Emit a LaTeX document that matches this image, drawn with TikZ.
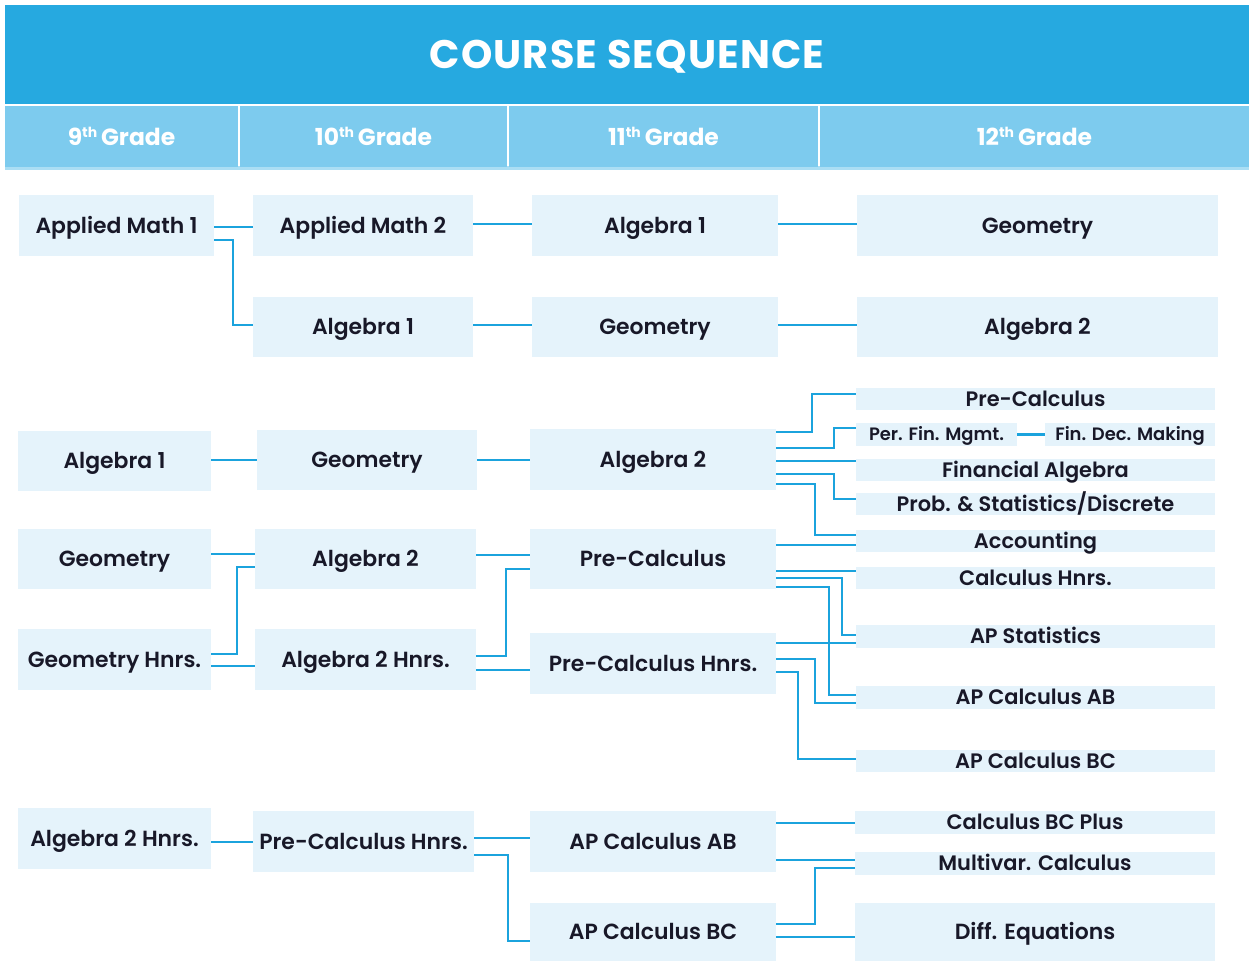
\documentclass[tikz,border=0pt]{standalone}
\usepackage{fontspec}
\setmainfont{Poppins}[UprightFont={* SemiBold},BoldFont={* Bold}]
\definecolor{titleblue}{RGB}{38,169,224}
\definecolor{headblue}{RGB}{125,203,238}
\definecolor{headline}{RGB}{170,222,244}
\definecolor{boxfill}{RGB}{229,243,251}
\definecolor{linec}{RGB}{27,163,221}
\definecolor{txt}{RGB}{24,24,40}
\newcommand\cbox[7][]{%
  \pgfmathsetmacro\bw{#5-#3}\pgfmathsetmacro\bh{#6-#4}%
  \pgfmathsetmacro\cx{(#3+#5)/2}\pgfmathsetmacro\cy{(#4+#6)/2}%
  \node[#1,minimum width=\bw bp,minimum height=\bh bp] (#2) at (\cx,\cy) {#7};}
\newcommand\gr[1]{#1\raisebox{0.62ex}{\fontsize{14}{14}\selectfont th}\,Grade}
\tikzset{
  box/.style={fill=boxfill, inner sep=0pt, text=txt, font=\fontsize{22}{23}\selectfont, text height=15.3bp, text depth=0bp},
  sbox/.style={box, font=\fontsize{21}{22}\selectfont, text height=14.6bp},
  tbox/.style={box, font=\fontsize{18}{19}\selectfont, text height=12.5bp},
  conn/.style={draw=linec, line width=2.3bp},
  hdr/.style={fill=headblue, inner sep=0pt, text=white, font=\bfseries\fontsize{23.5}{25}\selectfont},
  ttl/.style={fill=titleblue, inner sep=0pt, text=white, text height=27.5bp, text depth=0bp, font=\bfseries\fontsize{40}{42}\selectfont\addfontfeatures{LetterSpace=3}}
}
\begin{document}
\begin{tikzpicture}[x=1bp,y=-1bp]
\useasboundingbox[fill=white] (0,0) rectangle (1249,962);
% header
\cbox[ttl]{title}{5}{5}{1249}{104}{COURSE SEQUENCE}
\fill[headline] (5,166) rectangle (1249,170);
\cbox[hdr]{h9}{5}{106}{238}{167}{\gr{9}}
\cbox[hdr]{h10}{240}{106}{507}{167}{\gr{10}}
\cbox[hdr]{h11}{509}{106}{818}{167}{\gr{11}}
\cbox[hdr]{h12}{820}{106}{1249}{167}{\gr{12}}
% section 1
\cbox[box]{am1}{19}{195}{214}{256}{Applied Math 1}
\cbox[box]{am2}{253}{195}{473}{256}{Applied Math 2}
\cbox[box]{aa1}{532}{195}{778}{256}{Algebra 1}
\cbox[box]{ag12}{857}{195}{1218}{256}{Geometry}
\cbox[box]{ba1}{253}{297}{473}{357}{Algebra 1}
\cbox[box]{bg11}{532}{297}{778}{357}{Geometry}
\cbox[box]{ba2}{857}{297}{1218}{357}{Algebra 2}
% section 2
\cbox[box]{ca1}{18}{431}{211}{491}{Algebra 1}
\cbox[box]{cg}{257}{430}{477}{490}{Geometry}
\cbox[box]{ca2}{530}{429}{776}{490}{Algebra 2}
\cbox[sbox]{pcs}{856}{388}{1215}{410}{Pre-Calculus}
\cbox[tbox]{pfm}{856}{423}{1017}{446}{Per. Fin. Mgmt.}
\cbox[tbox]{fdm}{1045}{423}{1215}{446}{Fin. Dec. Making}
\cbox[sbox]{fa}{856}{459}{1215}{481}{Financial Algebra}
\cbox[sbox]{ps}{856}{493}{1215}{515}{Prob. \& Statistics/Discrete}
\cbox[sbox]{acc}{856}{530}{1215}{552}{Accounting}
\cbox[sbox]{ch}{856}{567}{1215}{589}{Calculus Hnrs.}
\cbox[sbox]{aps}{856}{625}{1215}{648}{AP Statistics}
\cbox[sbox]{apab}{856}{686}{1215}{709}{AP Calculus AB}
\cbox[sbox]{apbc}{856}{750}{1215}{772}{AP Calculus BC}
% section 3
\cbox[box]{dg}{18}{529}{211}{589}{Geometry}
\cbox[box]{da2}{255}{529}{476}{589}{Algebra 2}
\cbox[box]{dgh}{18}{629}{211}{690}{Geometry Hnrs.}
\cbox[box]{da2h}{255}{629}{476}{690}{Algebra 2 Hnrs.}
\cbox[box]{dpc}{530}{529}{776}{589}{Pre-Calculus}
\cbox[box]{dpch}{530}{633}{776}{694}{Pre-Calculus Hnrs.}
% section 4
\cbox[box]{ea2h}{18}{808}{211}{869}{Algebra 2 Hnrs.}
\cbox[box]{epch}{253}{811}{474}{872}{Pre-Calculus Hnrs.}
\cbox[box]{eab}{530}{811}{776}{872}{AP Calculus AB}
\cbox[box]{ebc}{530}{903}{776}{961}{AP Calculus BC}
\cbox[sbox]{cbcp}{855}{811}{1215}{834}{Calculus BC Plus}
\cbox[sbox]{mvc}{855}{852}{1215}{875}{Multivar. Calculus}
\cbox[box]{deq}{855}{903}{1215}{961}{Diff. Equations}
% connectors section 1
\draw[conn] (am1.east|-0,227) -- (am2.west|-0,227);
\draw[conn] (am1.east|-0,240) -| (233,325) -- (ba1.west|-0,325);
\draw[conn] (am2.east|-0,224) -- (aa1.west|-0,224);
\draw[conn] (aa1.east|-0,224) -- (ag12.west|-0,224);
\draw[conn] (ba1.east|-0,325) -- (bg11.west|-0,325);
\draw[conn] (bg11.east|-0,325) -- (ba2.west|-0,325);
% section 2
\draw[conn] (ca1.east|-0,460) -- (cg.west|-0,460);
\draw[conn] (cg.east|-0,460) -- (ca2.west|-0,460);
\draw[conn] (ca2.east|-0,432) -| (812,394) -- (pcs.west|-0,394);
\draw[conn] (ca2.east|-0,448) -| (834,428) -- (pfm.west|-0,428);
\draw[conn] (pfm.east) -- (fdm.west);
\draw[conn] (ca2.east|-0,461) -- (fa.west|-0,461);
\draw[conn] (ca2.east|-0,474) -| (834,499) -- (ps.west|-0,499);
\draw[conn] (ca2.east|-0,484) -| (815,535) -- (acc.west|-0,535);
% section 3
\draw[conn] (dg.east|-0,554) -- (da2.west|-0,554);
\draw[conn] (dgh.east|-0,654) -| (237,567) -- (da2.west|-0,567);
\draw[conn] (dgh.east|-0,666) -- (da2h.west|-0,666);
\draw[conn] (da2.east|-0,555) -- (dpc.west|-0,555);
\draw[conn] (da2h.east|-0,656) -| (506,569) -- (dpc.west|-0,569);
\draw[conn] (da2h.east|-0,670) -- (dpch.west|-0,670);
\draw[conn] (dpc.east|-0,545) -- (acc.west|-0,545);
\draw[conn] (dpc.east|-0,571) -- (ch.west|-0,571);
\draw[conn] (dpc.east|-0,578) -| (842,635) -- (aps.west|-0,635);
\draw[conn] (dpc.east|-0,587) -| (829,695) -- (apab.west|-0,695);
\draw[conn] (dpch.east|-0,643) -- (aps.west|-0,643);
\draw[conn] (dpch.east|-0,659) -| (815,703) -- (apab.west|-0,703);
\draw[conn] (dpch.east|-0,672) -| (798,759) -- (apbc.west|-0,759);
% section 4
\draw[conn] (ea2h.east|-0,842) -- (epch.west|-0,842);
\draw[conn] (epch.east|-0,838) -- (eab.west|-0,838);
\draw[conn] (epch.east|-0,855) -| (508,941) -- (ebc.west|-0,941);
\draw[conn] (eab.east|-0,823) -- (cbcp.west|-0,823);
\draw[conn] (eab.east|-0,860) -- (mvc.west|-0,860);
\draw[conn] (ebc.east|-0,924) -| (815,868) -- (mvc.west|-0,868);
\draw[conn] (ebc.east|-0,937) -- (deq.west|-0,937);
\end{tikzpicture}
\end{document}
